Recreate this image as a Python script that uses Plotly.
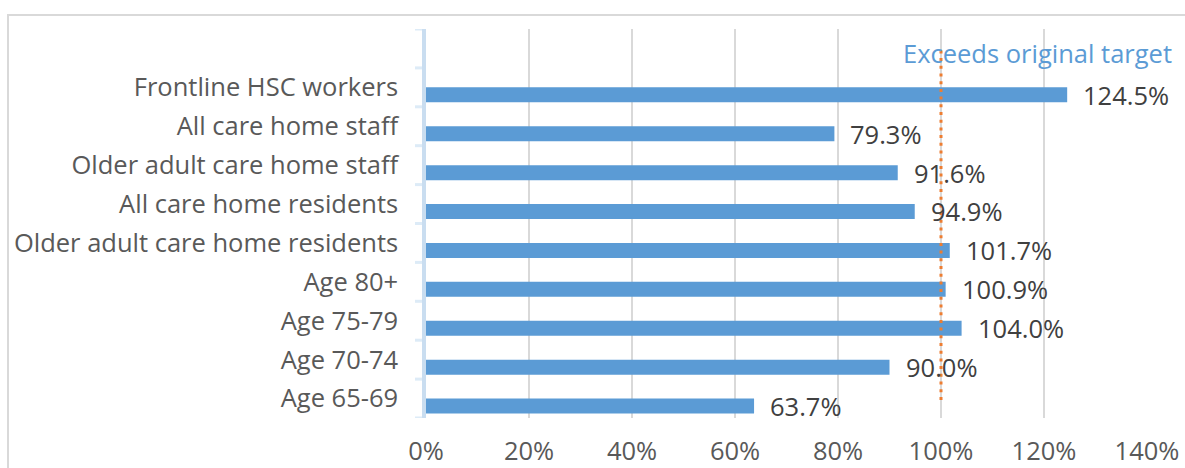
import plotly.graph_objects as go

# ---- data ----
categories = [
    "Frontline HSC workers",
    "All care home staff",
    "Older adult care home staff",
    "All care home residents",
    "Older adult care home residents",
    "Age 80+",
    "Age 75-79",
    "Age 70-74",
    "Age 65-69",
]
values = [124.5, 79.3, 91.6, 94.9, 101.7, 100.9, 104.0, 90.0, 63.7]
target_value = 100
target_label = "Exceeds original target"
x_ticks = [0, 20, 40, 60, 80, 100, 120, 140]
x_tick_labels = [f"{t}%" for t in x_ticks]

# ---- layout constants ----
W, H = 1185, 468
L, R, T, B = 426, 1147, 29, 418
FONT = "Open Sans"
FS = 25.5
BLUE = "#5B9BD5"
ORANGE = "#ED7D31"

pos = list(range(len(categories)))

fig = go.Figure()

fig.add_trace(go.Bar(
    orientation="h",
    y=pos,
    x=values,
    width=0.385,
    offset=0,
    marker=dict(color=BLUE, line=dict(width=0)),
    hoverinfo="skip",
))

# target dotted line (from the empty top slot to the last category)
fig.add_trace(go.Scatter(
    x=[target_value, target_value],
    y=[-0.95, len(categories) - 1 + 0.05],
    mode="lines",
    line=dict(color=ORANGE, width=3, dash="3px,4.7px"),
    hoverinfo="skip",
))

annotations = []
for i, v in zip(pos, values):
    annotations.append(dict(
        x=v, y=i + 0.19, xref="x", yref="y",
        text=f"{v:.1f}%", showarrow=False,
        xanchor="left", yanchor="middle", xshift=14,
        font=dict(family=FONT, size=FS, color="#404040"),
    ))
annotations.append(dict(
    x=118.8, y=-1, xref="x", yref="y",
    text=target_label, showarrow=False,
    xanchor="center", yanchor="middle", yshift=-5,
    font=dict(family=FONT, size=FS, color=BLUE),
))

shapes = []
# category boundary ticks
for k in range(-1, len(categories) + 1):
    yb = k - 0.5
    shapes.append(dict(
        type="line", xref="paper", yref="y",
        x0=(415 - L) / (R - L), x1=(423 - L) / (R - L), y0=yb, y1=yb,
        line=dict(color="#DDEBF7", width=3), layer="below",
    ))
# chart border
shapes.append(dict(
    type="rect", xref="paper", yref="paper",
    x0=(8 - L) / (R - L), x1=(1200 - L) / (R - L),
    y0=(B - 480) / (B - T), y1=(B - 15) / (B - T),
    line=dict(color="#D9D9D9", width=2), fillcolor="rgba(0,0,0,0)", layer="below",
))

fig.update_layout(
    width=W, height=H,
    margin=dict(l=L, r=W - R, t=T, b=H - B, pad=0, autoexpand=False),
    paper_bgcolor="white", plot_bgcolor="white",
    showlegend=False,
    annotations=annotations,
    shapes=shapes,
    font=dict(family=FONT, size=FS, color="#595959"),
)

fig.update_xaxes(
    range=[0, 140],
    tickvals=x_ticks, ticktext=x_tick_labels,
    showgrid=True, gridcolor="#D9D9D9", gridwidth=2,
    zeroline=False, showline=False, ticks="",
    ticklabelstandoff=15, automargin=False,
    tickfont=dict(family=FONT, size=FS, color="#595959"),
    fixedrange=True,
)
fig.update_yaxes(
    range=[len(categories) - 0.5, -1.5],
    tickvals=pos, ticktext=categories,
    showgrid=False, zeroline=False,
    showline=True, linecolor="#C9DDF0", linewidth=3.5,
    ticks="", ticklabelstandoff=19, automargin=False,
    tickfont=dict(family=FONT, size=FS, color="#595959"),
    fixedrange=True,
)

fig.write_html("out.html", config={"displayModeBar": False})
